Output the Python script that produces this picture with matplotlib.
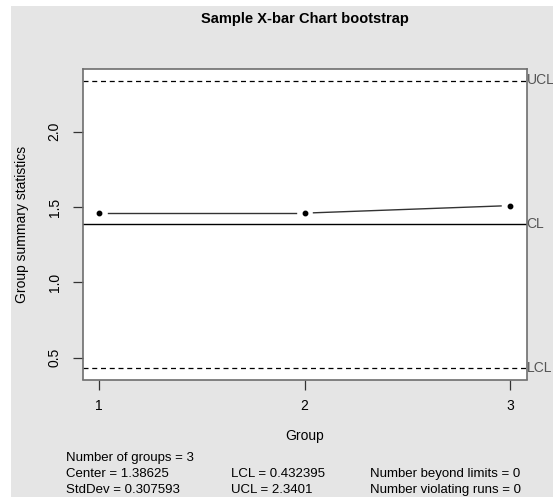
import matplotlib
matplotlib.use("Agg")
import matplotlib.pyplot as plt
from matplotlib.patches import Rectangle
import numpy as np

plt.rcParams["font.family"] = ["Liberation Sans", "DejaVu Sans"]

groups = [1, 2, 3]
stats = [1.46, 1.46, 1.51]
center = 1.38625
lcl = 0.432395
ucl = 2.3401
stddev = 0.307593
title = "Sample X-bar Chart bootstrap"
y_ticks = [0.5, 1.0, 1.5, 2.0]
y_ticklabels = ["0.5", "1.0", "1.5", "2.0"]

W, H = 553, 497
fig = plt.figure(figsize=(W / 100, H / 100), dpi=100)
fig.patch.set_facecolor("white")
fig.add_artist(Rectangle((11 / W, 0), 1 - 11 / W, 1 - 6 / H, transform=fig.transFigure,
                         facecolor="#e5e5e5", edgecolor="none", zorder=-10))

left, right, top, bottom = 82.5, 526.5, 69, 379.5
ax = fig.add_axes([left / W, 1 - bottom / H, (right - left) / W, (bottom - top) / H])
ax.set_facecolor("white")

rng = max(ucl, max(stats)) - min(lcl, min(stats))
ax.set_ylim(min(lcl, min(stats)) - 0.04 * rng, max(ucl, max(stats)) + 0.04 * rng)
ax.set_xlim(1 - 0.04 * 2, 3 + 0.04 * 2)

for s in ax.spines.values():
    s.set_color("#6e6e6e")
    s.set_linewidth(1.2)

ax.axhline(center, color="black", lw=1.0)
ax.axhline(ucl, color="black", lw=0.9, ls=(0, (4, 3)))
ax.axhline(lcl, color="black", lw=0.9, ls=(0, (4, 3)))

ax.plot(groups, stats, "o", color="black", ms=3.2, zorder=5)

fig.canvas.draw()
T = ax.transData
inv = T.inverted()
gap = 9.0
for i in range(len(groups) - 1):
    p0 = T.transform((groups[i], stats[i]))
    p1 = T.transform((groups[i + 1], stats[i + 1]))
    d = p1 - p0
    L = np.hypot(*d)
    u = d / L
    a = inv.transform(p0 + u * gap)
    b = inv.transform(p1 - u * gap)
    ax.plot([a[0], b[0]], [a[1], b[1]], color="#333333", lw=1.0)

ax.set_xticks(groups)
ax.set_xticklabels([str(g) for g in groups], fontsize=10)
ax.set_yticks(y_ticks)
ax.set_yticklabels(y_ticklabels, fontsize=10, rotation=90, va="center")
ax.tick_params(axis="both", direction="out", length=7, width=0.9, color="#333333")
ax.tick_params(axis="x", pad=7)
ax.tick_params(axis="y", pad=8)

trans = ax.get_yaxis_transform()
for val, lab in [(ucl, "UCL"), (center, "CL"), (lcl, "LCL")]:
    ax.text(1.0, val, lab, transform=trans, ha="left", va="center",
            fontsize=10, color="#555555", clip_on=False)

fig.text((left + right) / 2 / W, 1 - 19 / H, title, ha="center", va="center",
         fontsize=10.5, fontweight="bold")
fig.text((left + right) / 2 / W, 1 - 436 / H, "Group", ha="center", va="center", fontsize=10)
fig.text(22 / W, 1 - 224 / H, "Group summary statistics", ha="center", va="center",
         rotation=90, fontsize=10)

fs = 9.5
fig.text(66 / W, 1 - 458 / H, f"Number of groups = {len(groups)}", ha="left", va="center", fontsize=fs)
fig.text(66 / W, 1 - 474 / H, f"Center = {center:g}", ha="left", va="center", fontsize=fs)
fig.text(66 / W, 1 - 490 / H, f"StdDev = {stddev:g}", ha="left", va="center", fontsize=fs)
fig.text(231 / W, 1 - 474 / H, f"LCL = {lcl:g}", ha="left", va="center", fontsize=fs)
fig.text(231 / W, 1 - 490 / H, f"UCL = {ucl:g}", ha="left", va="center", fontsize=fs)
fig.text(370 / W, 1 - 474 / H, "Number beyond limits = 0", ha="left", va="center", fontsize=fs)
fig.text(370 / W, 1 - 490 / H, "Number violating runs = 0", ha="left", va="center", fontsize=fs)

fig.savefig("out.png", dpi=100, facecolor=fig.get_facecolor())
